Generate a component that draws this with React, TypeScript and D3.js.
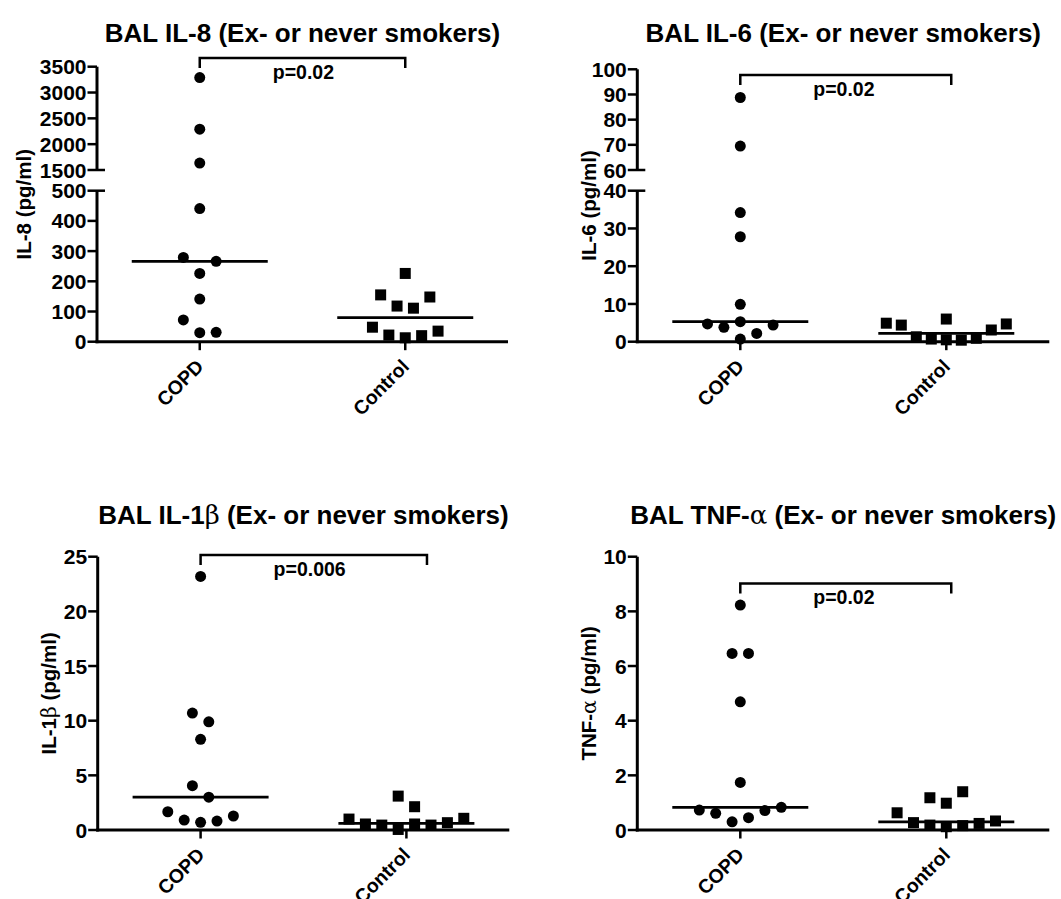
import React from "react";
import * as d3 from "d3";

// ---------- data ----------
const categories = ["COPD", "Control"];

// IL-8 (pg/ml)
const il8Copd = [3290, 2290, 1635, 441, 279, 266, 226, 141, 72, 30, 31];
const il8CopdCol = [0, 0, 0, 0, -1, 1, 0, 0, -1, 0, 1];
const il8Control = [226, 155, 148, 118, 111, 48, 22, 13, 20, 35];
const il8ControlCol = [0, -1.5, 1.5, -0.5, 0.5, -2, -1, 0, 1, 2];
const il8TicksLow = [0, 100, 200, 300, 400, 500];
const il8TicksHigh = [1500, 2000, 2500, 3000, 3500];

// IL-6 (pg/ml)
const il6Copd = [88.8, 69.5, 34.2, 27.8, 9.9, 5.3, 4.7, 4.4, 3.8, 2.2, 0.7];
const il6CopdCol = [0, 0, 0, 0, 0, 0, -2, 2, -1, 1, 0];
const il6Control = [6.0, 4.9, 4.7, 4.4, 3.1, 1.3, 0.9, 0.7, 0.5, 0.4];
const il6ControlCol = [0, -4, 4, -3, 3, -2, 2, -1, 0, 1];
const il6TicksLow = [0, 10, 20, 30, 40];
const il6TicksHigh = [60, 70, 80, 90, 100];

// IL-1β (pg/ml)
const il1bCopd = [23.2, 10.7, 9.9, 8.3, 4.05, 3.0, 1.67, 1.28, 0.91, 0.82, 0.7];
const il1bCopdCol = [0, -0.5, 0.5, 0, -0.5, 0.5, -2, 2, -1, 1, 0];
const il1bControl = [3.1, 2.13, 1.07, 1.0, 0.67, 0.55, 0.55, 0.45, 0.45, 0.05];
const il1bControlCol = [-0.5, 0.5, 3.5, -3.5, 2.5, -2.5, 0.5, -1.5, 1.5, -0.5];
const il1bTicks = [0, 5, 10, 15, 20, 25];

// TNF-α (pg/ml)
const tnfCopd = [8.23, 6.46, 6.46, 4.69, 1.74, 0.83, 0.73, 0.71, 0.61, 0.45, 0.3];
const tnfCopdCol = [0, -0.5, 0.5, 0, 0, 2.5, -2.5, 1.5, -1.5, 0.5, -0.5];
const tnfControl = [1.4, 1.18, 0.98, 0.63, 0.33, 0.27, 0.24, 0.18, 0.16, 0.12];
const tnfControlCol = [1, -1, 0, -3, 3, -2, 2, -1, 1, 0];
const tnfTicks = [0, 2, 4, 6, 8, 10];

// significance annotations
const pLabels = ["p=0.02", "p=0.02", "p=0.006", "p=0.02"];
const bracketLevels = [3670, 97.7, 25.15, 9.02];
const bracketEnds = [1.0, 1.024, 1.1, 1.024];

// ---------- layout / style ----------
const W = 1061;
const H = 899;
const FONT = "'Liberation Sans', Arial, Helvetica, sans-serif";
const GREEK_FONT = "'DejaVu Serif', 'Liberation Serif', serif";

type Group = { name: string; values: number[]; cols: number[]; shape: "circle" | "square" };
type PanelCfg = {
  title: string;
  yLabel: string;
  left: number;
  right: number;
  top: number;
  bottom: number;
  titleY: number;
  labelOffset: number;
  ticksLow: number[];
  ticksHigh?: number[];
  groups: Group[];
  pLabel: string;
  bracketLevel: number;
  bracketEnd: number;
};

const panels: PanelCfg[] = [
  {
    title: "BAL IL-8 (Ex- or never smokers)",
    yLabel: "IL-8 (pg/ml)",
    left: 97, right: 508, top: 66.7, bottom: 341.7, titleY: 41.7, labelOffset: 66.5,
    ticksLow: il8TicksLow, ticksHigh: il8TicksHigh,
    groups: [
      { name: categories[0], values: il8Copd, cols: il8CopdCol, shape: "circle" },
      { name: categories[1], values: il8Control, cols: il8ControlCol, shape: "square" },
    ],
    pLabel: pLabels[0], bracketLevel: bracketLevels[0], bracketEnd: bracketEnds[0],
  },
  {
    title: "BAL IL-6 (Ex- or never smokers)",
    yLabel: "IL-6 (pg/ml)",
    left: 637.3, right: 1049.3, top: 69.3, bottom: 341.7, titleY: 41.7, labelOffset: 41.3,
    ticksLow: il6TicksLow, ticksHigh: il6TicksHigh,
    groups: [
      { name: categories[0], values: il6Copd, cols: il6CopdCol, shape: "circle" },
      { name: categories[1], values: il6Control, cols: il6ControlCol, shape: "square" },
    ],
    pLabel: pLabels[1], bracketLevel: bracketLevels[1], bracketEnd: bracketEnds[1],
  },
  {
    title: "BAL IL-1β (Ex- or never smokers)",
    yLabel: "IL-1β (pg/ml)",
    left: 97.7, right: 509.3, top: 556.7, bottom: 830, titleY: 524, labelOffset: 41.7,
    ticksLow: il1bTicks,
    groups: [
      { name: categories[0], values: il1bCopd, cols: il1bCopdCol, shape: "circle" },
      { name: categories[1], values: il1bControl, cols: il1bControlCol, shape: "square" },
    ],
    pLabel: pLabels[2], bracketLevel: bracketLevels[2], bracketEnd: bracketEnds[2],
  },
  {
    title: "BAL TNF-α (Ex- or never smokers)",
    yLabel: "TNF-α (pg/ml)",
    left: 637.3, right: 1049.3, top: 556.7, bottom: 830, titleY: 524, labelOffset: 41.3,
    ticksLow: tnfTicks,
    groups: [
      { name: categories[0], values: tnfCopd, cols: tnfCopdCol, shape: "circle" },
      { name: categories[1], values: tnfControl, cols: tnfControlCol, shape: "square" },
    ],
    pLabel: pLabels[3], bracketLevel: bracketLevels[3], bracketEnd: bracketEnds[3],
  },
];

const LOW_SEG = 151; // px length of lower axis segment when broken
const GAP = 20.7; // px gap at axis break
const TICK = 9.5;
const AXIS_W = 3;
const MEDIAN_HALF = 68;
const R = 5.5;
const SQ = 11;

function rich(s: string) {
  const parts = s.split(/([α-ωΑ-Ω])/).filter((p) => p.length > 0);
  return parts.map((p, i) =>
    /[α-ωΑ-Ω]/.test(p) ? (
      <tspan key={i} fontFamily={GREEK_FONT} fontWeight="normal">
        {p}
      </tspan>
    ) : (
      <tspan key={i}>{p}</tspan>
    )
  );
}

function Panel({ cfg }: { cfg: PanelCfg }) {
  const { left: L, right: Rt, top, bottom } = cfg;
  const x = d3.scalePoint<string>().domain(categories).range([L, Rt]).padding(0.5);
  const xLin = d3.scaleLinear().domain([0, 1]).range([x(categories[0])!, x(categories[1])!]);
  const hasBreak = !!cfg.ticksHigh;
  const lowMax = d3.max(cfg.ticksLow)!;
  const y = hasBreak
    ? d3
        .scaleLinear()
        .domain([0, lowMax, d3.min(cfg.ticksHigh!)!, d3.max(cfg.ticksHigh!)!])
        .range([bottom, bottom - LOW_SEG, bottom - LOW_SEG - GAP, top])
    : d3.scaleLinear().domain([0, lowMax]).range([bottom, top]);

  const allTicks = hasBreak ? [...cfg.ticksLow, ...cfg.ticksHigh!] : cfg.ticksLow;
  const breakVals = hasBreak ? [lowMax, d3.min(cfg.ticksHigh!)!] : [];

  const by = y(cfg.bracketLevel);
  const bx0 = xLin(0);
  const bx1 = xLin(cfg.bracketEnd);

  return (
    <g>
      {/* title */}
      <text
        x={(L + Rt) / 2}
        y={cfg.titleY}
        textAnchor="middle"
        fontFamily={FONT}
        fontWeight="bold"
        fontSize={26}
        fill="#000"
      >
        {rich(cfg.title)}
      </text>

      {/* y label */}
      <text
        transform={`translate(${L - cfg.labelOffset},${(top + bottom) / 2}) rotate(-90)`}
        textAnchor="middle"
        fontFamily={FONT}
        fontWeight="bold"
        fontSize={20.5}
        fill="#000"
      >
        {rich(cfg.yLabel)}
      </text>

      {/* y axis lines */}
      {hasBreak ? (
        <>
          <line x1={L} x2={L} y1={y(0) + 1.5} y2={y(lowMax)} stroke="#000" strokeWidth={AXIS_W} />
          <line
            x1={L}
            x2={L}
            y1={y(d3.min(cfg.ticksHigh!)!)}
            y2={y(d3.max(cfg.ticksHigh!)!)}
            stroke="#000"
            strokeWidth={AXIS_W}
          />
        </>
      ) : (
        <line x1={L} x2={L} y1={y(0) + 1.5} y2={y(lowMax)} stroke="#000" strokeWidth={AXIS_W} />
      )}

      {/* y ticks */}
      {allTicks.map((t) => (
        <g key={`t${t}`}>
          <line
            x1={L - TICK}
            x2={breakVals.includes(t) ? L + 8 : L}
            y1={y(t)}
            y2={y(t)}
            stroke="#000"
            strokeWidth={2.5}
          />
          <text
            x={L - TICK - 1}
            y={y(t)}
            dy="0.36em"
            textAnchor="end"
            fontFamily={FONT}
            fontWeight="bold"
            fontSize={21}
            fill="#000"
          >
            {t}
          </text>
        </g>
      ))}

      {/* x axis */}
      <line x1={L - 1.5} x2={Rt} y1={bottom} y2={bottom} stroke="#000" strokeWidth={AXIS_W} />
      {categories.map((c) => (
        <g key={c}>
          <line x1={x(c)!} x2={x(c)!} y1={bottom} y2={bottom + 8.5} stroke="#000" strokeWidth={2.5} />
          <text
            transform={`translate(${x(c)! + 5},${bottom + 26}) rotate(-45)`}
            textAnchor="end"
            fontFamily={FONT}
            fontWeight="bold"
            fontSize={19.5}
            fill="#000"
          >
            {c}
          </text>
        </g>
      ))}

      {/* groups */}
      {cfg.groups.map((g) => {
        const span = (d3.max(g.cols)! - d3.min(g.cols)!) || 1;
        const spacing = Math.min(16.4, 120 / span);
        const off = d3.scaleLinear().domain([0, 1]).range([0, spacing]);
        const cx = x(g.name)!;
        const med = d3.median(g.values)!;
        return (
          <g key={g.name}>
            <line
              x1={cx - MEDIAN_HALF}
              x2={cx + MEDIAN_HALF}
              y1={y(med)}
              y2={y(med)}
              stroke="#000"
              strokeWidth={2.7}
            />
            {g.values.map((v, i) =>
              g.shape === "circle" ? (
                <circle key={i} cx={cx + off(g.cols[i])} cy={y(v)} r={R} fill="#000" />
              ) : (
                <rect
                  key={i}
                  x={cx + off(g.cols[i]) - SQ / 2}
                  y={y(v) - SQ / 2}
                  width={SQ}
                  height={SQ}
                  fill="#000"
                />
              )
            )}
          </g>
        );
      })}

      {/* significance bracket */}
      <path
        d={`M${bx0},${by + 10}V${by}H${bx1}V${by + 10}`}
        fill="none"
        stroke="#000"
        strokeWidth={2.5}
      />
      <text
        x={bx0 + 73}
        y={by + 21}
        fontFamily={FONT}
        fontWeight="bold"
        fontSize={19.5}
        fill="#000"
      >
        {cfg.pLabel}
      </text>
    </g>
  );
}

export default function App() {
  return (
    <svg
      width={W}
      height={H}
      viewBox={`0 0 ${W} ${H}`}
      style={{ position: "absolute", left: 0, top: 0, display: "block", background: "#fff" }}
    >
      <rect x={0} y={0} width={W} height={H} fill="#fff" />
      {panels.map((p, i) => (
        <Panel key={i} cfg={p} />
      ))}
    </svg>
  );
}
